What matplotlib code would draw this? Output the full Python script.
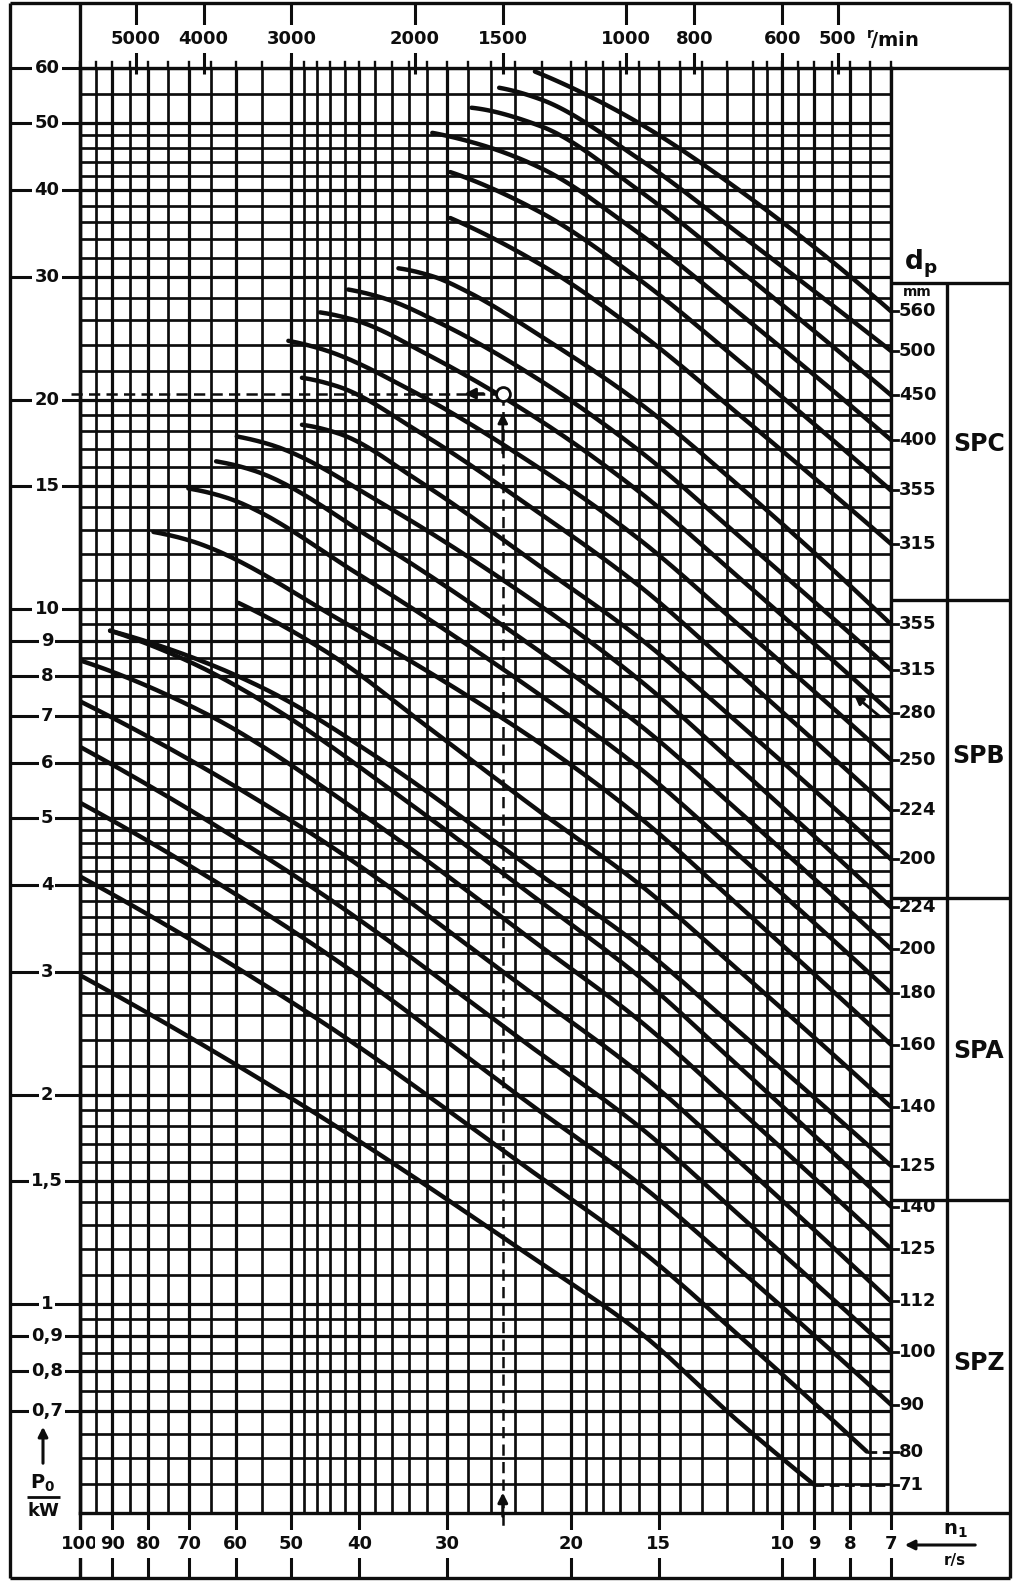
import numpy as np
import matplotlib
matplotlib.use("Agg")
import matplotlib.pyplot as plt
from matplotlib.ticker import NullLocator
from matplotlib.transforms import blended_transform_factory

# ---------------- data ----------------
# n1 in r/s, P0 in kW ; one list per pulley diameter dp
spc_dp = [560, 500, 450, 400, 355, 315]
spc_n = [[22.5, 19.5, 16, 11.5, 7],
         [25.3, 22.1, 16, 11.5, 7],
         [27.7, 22.1, 16, 11.5, 7],
         [31.5, 27.0, 22.1, 16, 11.5, 7],
         [29.7, 22.1, 16, 11.5, 7],
         [29.7, 22.1, 16, 11.5, 7]]
spc_p = [[59.3, 55.6, 50.0, 40.0, 26.8],
         [56.2, 54.1, 44.4, 34.6, 23.5],
         [52.6, 49.5, 40.0, 30.7, 20.3],
         [48.4, 46.6, 43.1, 34.7, 26.6, 17.5],
         [42.5, 37.2, 29.8, 22.7, 14.8],
         [36.5, 31.3, 25.0, 19.0, 12.4]]

spb_dp = [355, 315, 280, 250, 224, 200]
spb_n = [[35.2, 31.5, 27.9, 22.1, 16, 11.5, 7],
         [41.5, 37.0, 30.3, 22.1, 16, 11.5, 7],
         [45.5, 40.5, 31.7, 22.1, 16, 11.5, 7],
         [50.5, 45.0, 33.4, 22.1, 16, 11.5, 7],
         [48.3, 43.0, 32.7, 22.1, 16, 11.5, 7],
         [48.3, 43.0, 32.7, 22.1, 16, 11.5, 7]]
spb_p = [[30.9, 30.1, 28.5, 24.7, 19.8, 15.0, 9.5],
         [28.8, 28.0, 25.6, 21.3, 16.9, 12.7, 8.17],
         [26.7, 26.0, 23.1, 18.65, 14.75, 11.07, 7.09],
         [24.3, 23.6, 20.5, 15.9, 12.6, 9.45, 6.06],
         [21.5, 20.9, 17.9, 13.7, 10.8, 8.06, 5.13],
         [18.4, 17.9, 15.2, 11.5, 9.09, 6.82, 4.36]]

spa_dp = [224, 200, 180, 160, 140, 125]
spa_n = [[59.8, 53.3, 36.4, 22.1, 16, 11.5, 7],
         [64, 57, 37.6, 22.1, 16, 11.5, 7],
         [70.1, 62.5, 39.4, 22.1, 16, 11.5, 7],
         [78.6, 70.0, 41.7, 22.1, 16, 11.5, 7],
         [59.5, 44, 31, 22.1, 16, 11.5, 7],
         [90.6, 70, 53.6, 37.6, 22.1, 16, 11.5, 7]]
spa_p = [[17.7, 17.2, 14.0, 10.1, 7.91, 5.89, 3.72],
         [16.3, 15.85, 12.45, 8.67, 6.82, 5.10, 3.24],
         [14.9, 14.5, 11.08, 7.51, 5.91, 4.41, 2.80],
         [12.9, 12.55, 9.51, 6.40, 5.02, 3.73, 2.36],
         [10.2, 8.6, 6.6, 5.10, 4.02, 3.01, 1.92],
         [9.3, 8.55, 7.6, 6.1, 4.14, 3.28, 2.46, 1.58]]

spz_dp = [140, 125, 112, 100, 90, 80, 71]
spz_n = [[90.6, 70, 53.6, 34.4, 22.1, 16, 11.5, 7],
         [100, 66.8, 38.4, 22.1, 16, 11.5, 7],
         [100, 47, 22.1, 16, 11.5, 7],
         [100, 47, 22.1, 16, 11.5, 7],
         [100, 47, 22.1, 16, 11.5, 7],
         [100, 47, 22.1, 16, 11.5, 7.58],
         [100, 47, 22.1, 16, 11.5, 9.0]]
spz_p = [[9.3, 8.4, 7.25, 5.3, 3.79, 2.96, 2.19, 1.38],
         [8.43, 7.1, 4.95, 3.27, 2.56, 1.90, 1.20],
         [7.36, 4.76, 2.74, 2.15, 1.60, 1.008],
         [6.33, 3.99, 2.29, 1.80, 1.34, 0.853],
         [5.26, 3.31, 1.89, 1.49, 1.12, 0.716],
         [4.12, 2.61, 1.52, 1.20, 0.898, 0.613],
         [2.97, 1.90, 1.145, 0.912, 0.675, 0.549]]

profiles = ["SPC", "SPB", "SPA", "SPZ"]

# example reading (1500 r/min -> 20.4 kW)
example_n = 25
example_p = 20.4

# axis tick labels
left_vals = [60, 50, 40, 30, 20, 15, 10, 9, 8, 7, 6, 5, 4, 3, 2, 1.5, 1, 0.9, 0.8, 0.7]
left_txt = ["60", "50", "40", "30", "20", "15", "10", "9", "8", "7", "6", "5", "4",
            "3", "2", "1,5", "1", "0,9", "0,8", "0,7"]
bottom_vals = [100, 90, 80, 70, 60, 50, 40, 30, 20, 15, 10, 9, 8, 7]
top_rpm = [5000, 4000, 3000, 2000, 1500, 1000, 800, 600, 500]

# grid values
n_grid = (list(np.arange(7, 11.01, 0.5)) + list(range(12, 21)) +
          list(range(22, 51, 2)) + list(range(55, 101, 5)))
p_grid = (list(np.arange(0.5, 1.001, 0.05)) + list(np.arange(1.1, 2.001, 0.1)) +
          list(np.arange(2.2, 5.001, 0.2)) + list(np.arange(5.5, 10.01, 0.5)) +
          list(range(11, 21)) + list(range(22, 51, 2)) + [55, 60])


def pchip_curve(n, p, k=30):
    x = np.log10(np.asarray(n, float))[::-1]
    y = np.log10(np.asarray(p, float))[::-1]
    h = np.diff(x)
    d = np.diff(y) / h
    m = np.zeros_like(y)
    if len(x) == 2:
        m[:] = d[0]
    else:
        for i in range(1, len(x) - 1):
            if d[i - 1] * d[i] > 0:
                w1 = 2 * h[i] + h[i - 1]
                w2 = h[i] + 2 * h[i - 1]
                m[i] = (w1 + w2) / (w1 / d[i - 1] + w2 / d[i])

        def end(h0, h1, d0, d1):
            mm = ((2 * h0 + h1) * d0 - h0 * d1) / (h0 + h1)
            if np.sign(mm) != np.sign(d0):
                mm = 0.0
            elif np.sign(d0) != np.sign(d1) and abs(mm) > abs(3 * d0):
                mm = 3 * d0
            return mm
        m[0] = end(h[0], h[1], d[0], d[1])
        m[-1] = end(h[-1], h[-2], d[-1], d[-2])
    xs, ys = [], []
    for i in range(len(x) - 1):
        t = np.linspace(0, 1, k, endpoint=(i == len(x) - 2))
        h00 = 2 * t**3 - 3 * t**2 + 1
        h10 = t**3 - 2 * t**2 + t
        h01 = -2 * t**3 + 3 * t**2
        h11 = t**3 - t**2
        xs.append(x[i] + t * h[i])
        ys.append(h00 * y[i] + h10 * h[i] * m[i] + h01 * y[i + 1] + h11 * h[i] * m[i + 1])
    return 10 ** np.concatenate(xs), 10 ** np.concatenate(ys)


# ---------------- figure ----------------
plt.rcParams['font.family'] = ['DejaVu Sans']
W, H, DPI = 1024, 1592, 100
fig = plt.figure(figsize=(W / DPI, H / DPI), dpi=DPI)
fig.patch.set_facecolor("white")
K = "#0d0d0d"

GL, GR, GT, GB = 80, 891, 68, 1513
ax = fig.add_axes([GL / W, 1 - GB / H, (GR - GL) / W, (GB - GT) / H])
ax.set_xscale("log")
ax.set_yscale("log")
ax.set_xlim(100, 7)
ax.set_ylim(0.5, 60)
for a in (ax.xaxis, ax.yaxis):
    a.set_major_locator(NullLocator())
    a.set_minor_locator(NullLocator())
for s in ax.spines.values():
    s.set_linewidth(2.4)
    s.set_color(K)

labeled_n = set(bottom_vals)
labeled_p = set(left_vals)
for v in n_grid:
    lw = 2.3 if any(abs(v - u) < 1e-6 for u in labeled_n) else 1.95
    ax.axvline(v, color=K, lw=lw, zorder=1)
for v in p_grid:
    lw = 2.3 if any(abs(v - u) < 1e-6 for u in labeled_p) else 1.95
    ax.axhline(v, color=K, lw=lw, zorder=1)

# curves
for ns, ps in zip(spc_n + spb_n + spa_n + spz_n, spc_p + spb_p + spa_p + spz_p):
    cx, cy = pchip_curve(ns, ps)
    ax.plot(cx, cy, color=K, lw=3.2, solid_capstyle="round", zorder=3)
    if ns[-1] > 7:
        ax.plot([ns[-1], 7], [ps[-1], ps[-1]], color=K, lw=2.0,
                ls=(0, (3.5, 2.0)), zorder=3, clip_on=False)

# example reading
ax.plot([103, example_n], [example_p, example_p], color=K, lw=1.8,
        ls=(0, (4.5, 2.5)), zorder=4, clip_on=False)
ax.plot([example_n, example_n], [example_p, 0.478], color=K, lw=1.8,
        ls=(0, (4.5, 2.5)), zorder=4, clip_on=False)
ax.plot([example_n], [example_p], marker="o", ms=10, mfc="white", mec=K, mew=2.0,
        zorder=6, clip_on=False)
ax.annotate("", xy=(28.6, example_p), xytext=(26.4, example_p),
            arrowprops=dict(arrowstyle="-|>", color=K, lw=2.0, mutation_scale=16), zorder=6)
ax.annotate("", xy=(example_n, 19.3), xytext=(example_n, 16.6),
            arrowprops=dict(arrowstyle="-|>", color=K, lw=2.0, mutation_scale=14), zorder=6)
ax.annotate("", xy=(example_n, 0.54), xytext=(example_n, 0.49),
            arrowprops=dict(arrowstyle="-|>", color=K, lw=2.2, mutation_scale=14), zorder=6,
            annotation_clip=False)
ax.annotate("", xy=(7.95, 7.55), xytext=(7.2, 6.95),
            arrowprops=dict(arrowstyle="-|>", color=K, lw=2.0, mutation_scale=13), zorder=6)

# ---------------- overlay (frame, labels) ----------------
ov = fig.add_axes([0, 0, 1, 1])
ov.set_xlim(0, W)
ov.set_ylim(H, 0)
ov.axis("off")
ov.set_zorder(5)
xd_yp = blended_transform_factory(ax.transData, ov.transData)
xp_yd = blended_transform_factory(ov.transData, ax.transData)

FLW = 2.4
def hline(y, x0, x1, lw=FLW):
    ov.plot([x0, x1], [y, y], color=K, lw=lw, solid_capstyle="butt")
def vline(x, y0, y1, lw=FLW):
    ov.plot([x, x], [y0, y1], color=K, lw=lw, solid_capstyle="butt")

# outer frame and strips
hline(3, 10, 1010); hline(1578, 10, 1010)
vline(10, 3, 1578); vline(1010, 3, 1578)
vline(GL, 3, 1578)
hline(GT, GR, 1010); hline(GB, GR, 1010)
vline(947, 283, GB)
for yy in (283, 600, 898, 1200):
    hline(yy, GR, 1010)

TXT = dict(color=K, fontweight="bold")
BOX = dict(facecolor="white", edgecolor="none", pad=1.5)

# left P0 labels
for v, t in zip(left_vals, left_txt):
    ov.plot([10, GL], [v, v], color=K, lw=2.2, transform=xp_yd, solid_capstyle="butt")
    ov.text(47, v, t, transform=xp_yd, ha="center", va="center", fontsize=13,
            bbox=BOX, **TXT)

# bottom n1 labels
for v in bottom_vals:
    ov.plot([v, v], [GB, 1578], color=K, lw=2.2, transform=xd_yp, solid_capstyle="butt")
    ov.text(v, 1544, f"{v:g}", transform=xd_yp, ha="center", va="center", fontsize=13,
            bbox=dict(facecolor="white", edgecolor="none", pad=3.5), **TXT)

# top r/min labels
for r in top_rpm:
    v = r / 60.0
    ov.plot([v, v], [3, 74], color=K, lw=2.2, transform=xd_yp, solid_capstyle="butt")
    ov.text(v, 39, f"{r}", transform=xd_yp, ha="center", va="center", fontsize=13,
            bbox=dict(facecolor="white", edgecolor="none", pad=3.5), **TXT)
# grid lines poking above the grid
for v in n_grid:
    ov.plot([v, v], [62, GT], color=K, lw=1.7, transform=xd_yp)
ov.text(866, 40, r"$\mathbf{^{r}\!/min}$", ha="left", va="center", fontsize=14, color=K)

# right dp labels
groups = [(spc_dp, spc_p), (spb_dp, spb_p), (spa_dp, spa_p), (spz_dp, spz_p)]
for dps, pss in groups:
    for dp, ps in zip(dps, pss):
        ov.plot([GR, 898], [ps[-1], ps[-1]], color=K, lw=2.0, transform=xp_yd)
        ov.text(899, ps[-1], f"{dp}", transform=xp_yd, ha="left", va="center",
                fontsize=13, **TXT)

for name, yc in zip(profiles, (444, 756, 1051, 1363)):
    ov.text(979, yc, name, ha="center", va="center", fontsize=17, **TXT)

ov.text(921, 264, r"$\mathbf{d_p}$", ha="center", va="center", fontsize=19, color=K)
ov.text(917, 292, "mm", ha="center", va="center", fontsize=10, **TXT)

# P0 / kW axis title
ov.annotate("", xy=(43, 1424), xytext=(43, 1466),
            arrowprops=dict(arrowstyle="-|>", color=K, lw=2.2, mutation_scale=14))
ov.text(43, 1483, r"$\mathbf{P_0}$", ha="center", va="center", fontsize=14, color=K)
hline(1497, 27, 60, lw=2.0)
ov.text(43, 1511, "kW", ha="center", va="center", fontsize=13, **TXT)

# n1 / r/s axis title
ov.annotate("", xy=(902, 1545), xytext=(978, 1545),
            arrowprops=dict(arrowstyle="-|>", color=K, lw=2.2, mutation_scale=14))
ov.text(955, 1530, r"$\mathbf{n_1}$", ha="center", va="center", fontsize=14, color=K)
ov.text(955, 1561, "r/s", ha="center", va="center", fontsize=11, **TXT)

fig.savefig("out.png", dpi=DPI, facecolor="white")
